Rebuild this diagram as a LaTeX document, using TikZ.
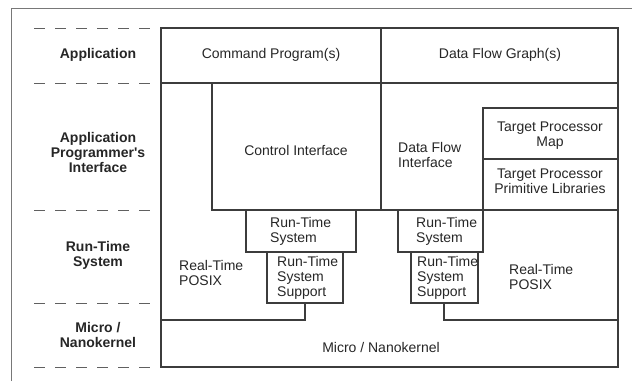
\documentclass[tikz,border=0pt]{standalone}
\usepackage{fontspec}
\setmainfont{Liberation Sans}
\definecolor{linegray}{RGB}{60,60,60}
\definecolor{framegray}{RGB}{120,120,120}
\tikzset{
  txt/.style={font=\fontsize{14}{15}\selectfont, inner sep=0pt, align=center, text=black!85},
  lft/.style={txt, align=left, anchor=west},
  layer/.style={txt, font=\bfseries\fontsize{14}{15}\selectfont},
  sep/.style={framegray!80!black, line width=1pt, dash pattern=on 11pt off 10pt},
  inner/.style={linegray, line width=1.1pt},
  outer/.style={linegray, line width=2.2pt}
}
\begin{document}
\begin{tikzpicture}[x=1pt, y=-1pt]
    \useasboundingbox (0,0) rectangle (632,381);

        % Draw the frame
        \draw[framegray, line width=1pt] (11,381) -- (11,8) -- (632,8);

        % Layer separators
        \foreach \y in {28,83,210,303,367}
          \draw[sep] (34,\y) -- (150,\y);

        % Layer names
        \node[layer] (app) at (98,55) {Application};
        \node[layer] (api) at (98,152) {Application\\Programmer\textquotesingle s\\Interface};
        \node[layer] (rts) at (98,255) {Run-Time\\System};
        \node[layer] (mk) at (98,335) {Micro /\\Nanokernel};

        % Inner boxes
        \draw[inner] (161,83) -- (618,83);
        \draw[inner] (381,28) -- (381,210);
        \draw[inner] (212,83) -- (212,210) -- (618,210);
        \draw[inner] (483,108) rectangle (618,210);
        \draw[inner] (483,159) -- (618,159);
        \draw[inner] (246,210) rectangle (356,252); % left run-time system
        \draw[inner] (267,252) rectangle (343,303); % left support
        \draw[inner] (305,303) -- (305,320) -- (161,320);
        \draw[inner] (398,210) rectangle (483,252); % right run-time system
        \draw[inner] (411,252) rectangle (478,303); % right support
        \draw[inner] (444,303) -- (444,320) -- (618,320);

        % Outer box
        \draw[outer] (161,28) rectangle (618,367);

        % Labels for the boxes
        \node[txt] (cmd) at (271,55) {Command Program(s)};
        \node[txt] (dfg) at (500,55) {Data Flow Graph(s)};
        \node[txt] (ci) at (296,150) {Control Interface};
        \node[lft] (dfi) at (398,155) {Data Flow\\Interface};
        \node[txt] (tpm) at (550,136) {Target Processor\\Map};
        \node[txt] (tpl) at (550,181) {Target Processor\\Primitive Libraries};
        \node[lft] (rtsl) at (270,231) {Run-Time\\System};
        \node[lft] (supl) at (277,278) {Run-Time\\System\\Support};
        \node[lft] (posl) at (179,273) {Real-Time\\POSIX};
        \node[lft] (rtsr) at (416,231) {Run-Time\\System};
        \node[lft] (supr) at (417,278) {Run-Time\\System\\Support};
        \node[lft] (posr) at (509,277) {Real-Time\\POSIX};
        \node[txt] (mnk) at (381,347) {Micro / Nanokernel};

\end{tikzpicture}
\end{document}
